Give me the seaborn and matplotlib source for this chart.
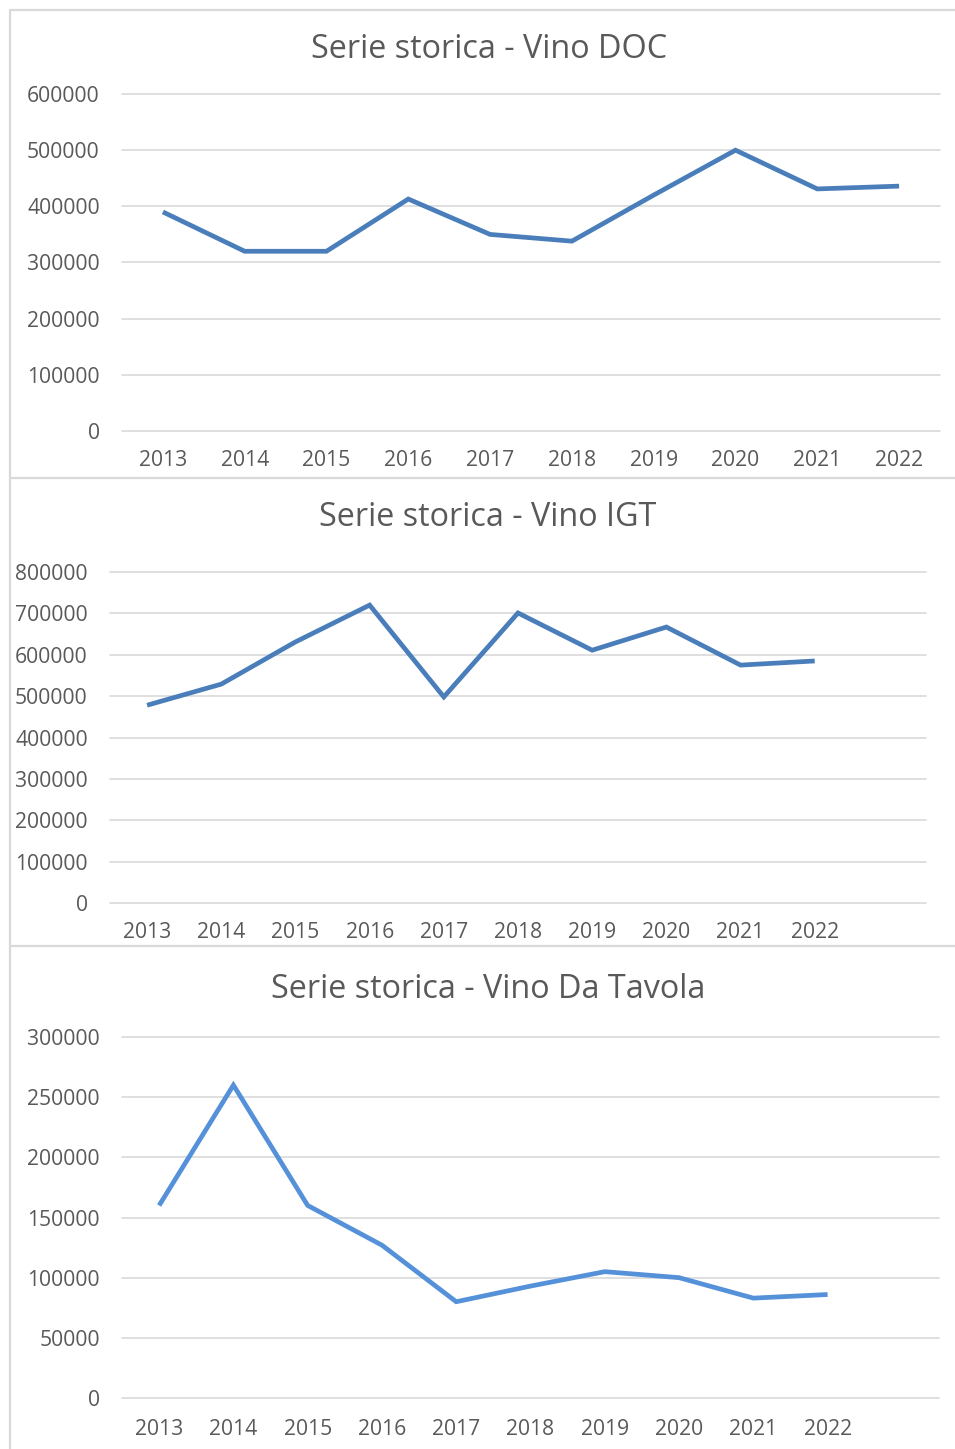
import numpy as np
import pandas as pd
import matplotlib
matplotlib.use("Agg")
import matplotlib.pyplot as plt
from matplotlib.lines import Line2D
import seaborn as sns

# ── Data ────────────────────────────────────────────────────────────────────
years = [2013, 2014, 2015, 2016, 2017, 2018, 2019, 2020, 2021, 2022]
doc_values = [390000, 320000, 320000, 413000, 350000, 338000, 420000, 500000, 431000, 436000]
igt_values = [478000, 529000, 631000, 720000, 498000, 701000, 611000, 667000, 575000, 585000]
tavola_values = [160000, 260000, 160000, 127000, 80000, 93000, 105000, 100000, 83000, 86000]

titles = ["Serie storica - Vino DOC", "Serie storica - Vino IGT", "Serie storica - Vino Da Tavola"]
y_ticks = [
    [0, 100000, 200000, 300000, 400000, 500000, 600000],
    [0, 100000, 200000, 300000, 400000, 500000, 600000, 700000, 800000],
    [0, 50000, 100000, 150000, 200000, 250000, 300000],
]

# ── Style ───────────────────────────────────────────────────────────────────
sns.set_theme(style="white")
plt.rcParams["font.family"] = ["Open Sans", "DejaVu Sans"]

TEXT = "#595959"
GRID = "#D9D9D9"
line_colors = ["#4A7EBB", "#4A7EBB", "#5591D9"]

W, H = 955, 1449
fig = plt.figure(figsize=(W / 100, H / 100), dpi=100)
fig.patch.set_facecolor("white")


def fig_rect(x0, y0, x1, y1):
    # pixel box (top-left origin) -> figure fraction [left, bottom, width, height]
    return [x0 / W, 1 - y1 / H, (x1 - x0) / W, (y1 - y0) / H]


# plot area boxes in pixels: x0, y_top, x1, y_bottom
plot_boxes = [(122, 94, 940, 431), (110, 572, 926, 903), (122, 1037, 939, 1398)]
title_pos = [(489, 49), (488, 517), (488, 990)]
x_pads = [14, 14, 15]
n_slots = [10, 11, 11]
series = [doc_values, igt_values, tavola_values]

for i in range(3):
    x0, yt, x1, yb = plot_boxes[i]
    ax = fig.add_axes(fig_rect(x0, yt, x1, yb))
    df = pd.DataFrame({"anno": years, "valore": series[i]})
    sns.lineplot(data=df, x="anno", y="valore", ax=ax, color=line_colors[i],
                 linewidth=3.4, solid_joinstyle="miter", solid_capstyle="butt")
    ax.set_xlim(years[0] - 0.5, years[0] - 0.5 + n_slots[i])
    ax.set_ylim(y_ticks[i][0], y_ticks[i][-1])
    ax.set_xticks(years)
    ax.set_xticklabels([str(y) for y in years])
    ax.set_yticks(y_ticks[i])
    ax.set_yticklabels([str(v) for v in y_ticks[i]])
    ax.set_xlabel("")
    ax.set_ylabel("")
    for s in ax.spines.values():
        s.set_visible(False)
    ax.yaxis.grid(True, color=GRID, linewidth=1.2)
    ax.xaxis.grid(False)
    ax.set_axisbelow(True)
    ax.tick_params(axis="both", length=0, labelsize=15.2, labelcolor=TEXT)
    ax.tick_params(axis="y", pad=16)
    ax.tick_params(axis="x", pad=x_pads[i])
    ax.set_facecolor("none")
    for ln in ax.get_ygridlines():
        ln.set_clip_on(False)
    tx, ty = title_pos[i]
    fig.text(tx / W, 1 - ty / H, titles[i], ha="center", va="center",
             fontsize=23.3, color=TEXT)

# ── Panel borders ───────────────────────────────────────────────────────────
border_kw = dict(color=GRID, linewidth=1.6, transform=fig.transFigure)
fig.add_artist(Line2D([10 / W, 10 / W], [0, 1 - 10 / H], **border_kw))
for yy in [10, 478, 946]:
    fig.add_artist(Line2D([10 / W, 1], [1 - yy / H, 1 - yy / H], **border_kw))

fig.savefig("out.png", dpi=100)
